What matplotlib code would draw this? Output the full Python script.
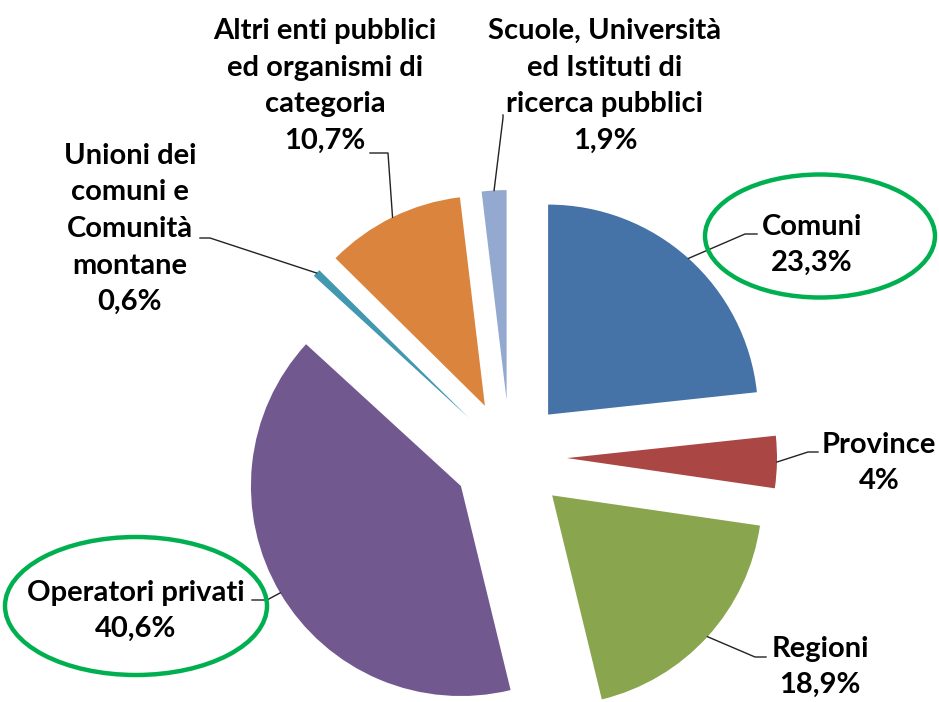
import numpy as np
import matplotlib
matplotlib.use("Agg")
import matplotlib.pyplot as plt
from matplotlib.patches import Ellipse

# data
labels = ["Comuni", "Province", "Regioni", "Operatori privati",
          "Unioni dei\ncomuni e\nComunità\nmontane",
          "Altri enti pubblici\ned organismi di\ncategoria",
          "Scuole, Università\ned Istituti di\nricerca pubblici"]
values = [23.3, 4.0, 18.9, 40.6, 0.6, 10.7, 1.9]
pct_text = ["23,3%", "4%", "18,9%", "40,6%", "0,6%", "10,7%", "1,9%"]
colors = ["#4572A7", "#AA4643", "#89A54E", "#71588F", "#4198AF", "#DB843D", "#93A9CF"]

W, H = 939, 702
fig = plt.figure(figsize=(W / 100, H / 100), dpi=100)
ax = fig.add_axes([0, 0, 1, 1])

cx, cy, R = 510, H - 457, 210
expl = 57  # offset in data units (pixels here)
wedges, _ = ax.pie(values, colors=colors, startangle=90, counterclock=False,
                   explode=[expl] * len(values), radius=R, center=(cx, cy),
                   wedgeprops=dict(linewidth=0), frame=True)
ax.set_xlim(0, W)
ax.set_ylim(0, H)
ax.set_aspect("equal")
ax.axis("off")

# label layout (pixel coords, y from top): text center, elbow, line end
layout = [
    dict(txt=(812, 245), elbow=(745, 234), end=(757, 234)),
    dict(txt=(879, 463), elbow=(808, 452), end=(818, 452)),
    dict(txt=(820, 667), elbow=(755, 657), end=(766, 657)),
    dict(txt=(136, 611), elbow=(267, 600), end=(252, 600)),
    dict(txt=(130, 229), elbow=(210, 238), end=(200, 238)),
    dict(txt=(325, 86), elbow=(388, 153), end=(370, 153)),
    dict(txt=(605, 86), elbow=(503, 118), end=(503, 115)),
]

font = dict(family="Lato", weight="bold", size=21, color="black")

for w, lab, p, lay in zip(wedges, labels, pct_text, layout):
    mid = np.deg2rad((w.theta1 + w.theta2) / 2)
    ox, oy = w.center
    ax_x = ox + R * np.cos(mid)
    ax_y = oy + R * np.sin(mid)
    ex, ey = lay["elbow"]
    nx, ny = lay["end"]
    ax.plot([ax_x, ex, nx], [ax_y, H - ey, H - ny], color="#222222", lw=1.0, zorder=3)
    tx, ty = lay["txt"]
    ax.text(tx, H - ty, lab + "\n" + p, ha="center", va="center",
            linespacing=1.5, **font)

# green highlight ellipses
ax.add_patch(Ellipse((820, H - 236), 230, 123, fill=False, ec="#00B050", lw=3.2, zorder=4))
ax.add_patch(Ellipse((136, H - 606), 262, 138, fill=False, ec="#00B050", lw=3.2, zorder=4))

fig.savefig("out.png", dpi=100, facecolor="white")
